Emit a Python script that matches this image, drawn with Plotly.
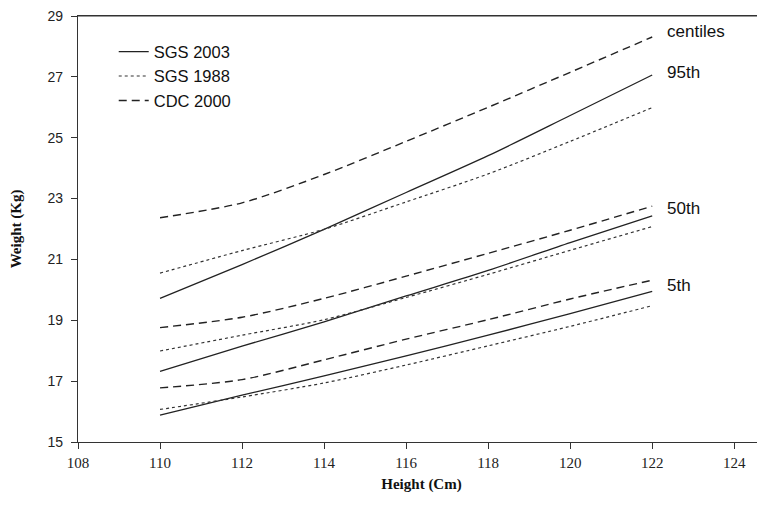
import plotly.graph_objects as go

heights = [110, 112, 114, 116, 118, 120, 122]

sgs2003_p95 = [19.72, 20.83, 21.99, 23.20, 24.41, 25.73, 27.06]
sgs2003_p50 = [17.32, 18.15, 18.95, 19.80, 20.64, 21.55, 22.43]
sgs2003_p5 = [15.88, 16.54, 17.17, 17.83, 18.51, 19.22, 19.95]

sgs1988_p95 = [20.55, 21.29, 21.99, 22.89, 23.81, 24.88, 25.99]
sgs1988_p50 = [17.99, 18.51, 19.02, 19.75, 20.51, 21.30, 22.08]
sgs1988_p5 = [16.07, 16.48, 16.94, 17.53, 18.16, 18.80, 19.48]

cdc2000_p95 = [22.37, 22.86, 23.79, 24.88, 26.00, 27.15, 28.31]
cdc2000_p50 = [18.76, 19.10, 19.72, 20.45, 21.20, 21.96, 22.75]
cdc2000_p5 = [16.78, 17.05, 17.70, 18.38, 19.02, 19.70, 20.32]

x_ticks = [108, 110, 112, 114, 116, 118, 120, 122, 124]
y_ticks = [15, 17, 19, 21, 23, 25, 27, 29]

centile_labels = ["centiles", "95th", "50th", "5th"]
centile_label_y = [28.48, 27.14, 22.69, 20.14]

series = [
    ("SGS 2003", [sgs2003_p95, sgs2003_p50, sgs2003_p5], dict(color="#222222", width=1.3, dash="solid")),
    ("SGS 1988", [sgs1988_p95, sgs1988_p50, sgs1988_p5], dict(color="#333333", width=1.2, dash="dot")),
    ("CDC 2000", [cdc2000_p95, cdc2000_p50, cdc2000_p5], dict(color="#222222", width=1.4, dash="8px,5px")),
]

fig = go.Figure()
for name, curves, style in series:
    for i, ys in enumerate(curves):
        fig.add_trace(go.Scatter(
            x=heights, y=ys, mode="lines", name=name,
            line=dict(shape="spline", smoothing=0.8, **style),
            legendgroup=name, showlegend=(i == 0),
        ))

for txt, yv in zip(centile_labels, centile_label_y):
    fig.add_annotation(x=122.3, y=yv, text=txt, showarrow=False,
                       xanchor="left", yanchor="middle",
                       font=dict(family="Liberation Sans, Arial", size=17, color="#111111"))

# top frame line of the plot area
fig.add_shape(type="line", xref="paper", yref="paper", x0=0, x1=1, y0=1, y1=1,
              line=dict(color="#333333", width=1.2))

# page body has an 8px default margin, so the figure is sized to fit the window
fig.update_layout(
    width=757, height=497,
    margin=dict(l=70, r=0, t=6, b=63),
    paper_bgcolor="white", plot_bgcolor="white",
    showlegend=True,
    legend=dict(x=0.052, y=0.957, xanchor="left", yanchor="top",
                bgcolor="rgba(0,0,0,0)", borderwidth=0,
                font=dict(family="Liberation Sans, Arial", size=16.5, color="#111111"),
                tracegroupgap=0, itemwidth=30),
    xaxis=dict(range=[108, 124.75], tickvals=x_ticks, ticks="outside", ticklen=6,
               tickcolor="#333333", showline=True, linecolor="#333333", linewidth=1.2,
               mirror=True, showgrid=False, zeroline=False, ticklabelstandoff=1,
               tickfont=dict(family="Liberation Serif, Times New Roman", size=15, color="#222222"),
               title=dict(text="<b>Height (Cm)</b>", standoff=8,
                          font=dict(family="Liberation Serif, Times New Roman", size=15, color="#111111"))),
    yaxis=dict(range=[15, 29], tickvals=y_ticks, ticks="outside", ticklen=6,
               tickcolor="#333333", showline=True, linecolor="#333333", linewidth=1.2,
               showgrid=False, zeroline=False, ticklabelstandoff=5, ticklabeloverflow="allow",
               tickfont=dict(family="Liberation Sans, Arial", size=14, color="#222222"),
               title=dict(text="<b>Weight (Kg)</b>", standoff=22,
                          font=dict(family="Liberation Serif, Times New Roman", size=15, color="#111111"))),
)

fig.write_html("out.html")
